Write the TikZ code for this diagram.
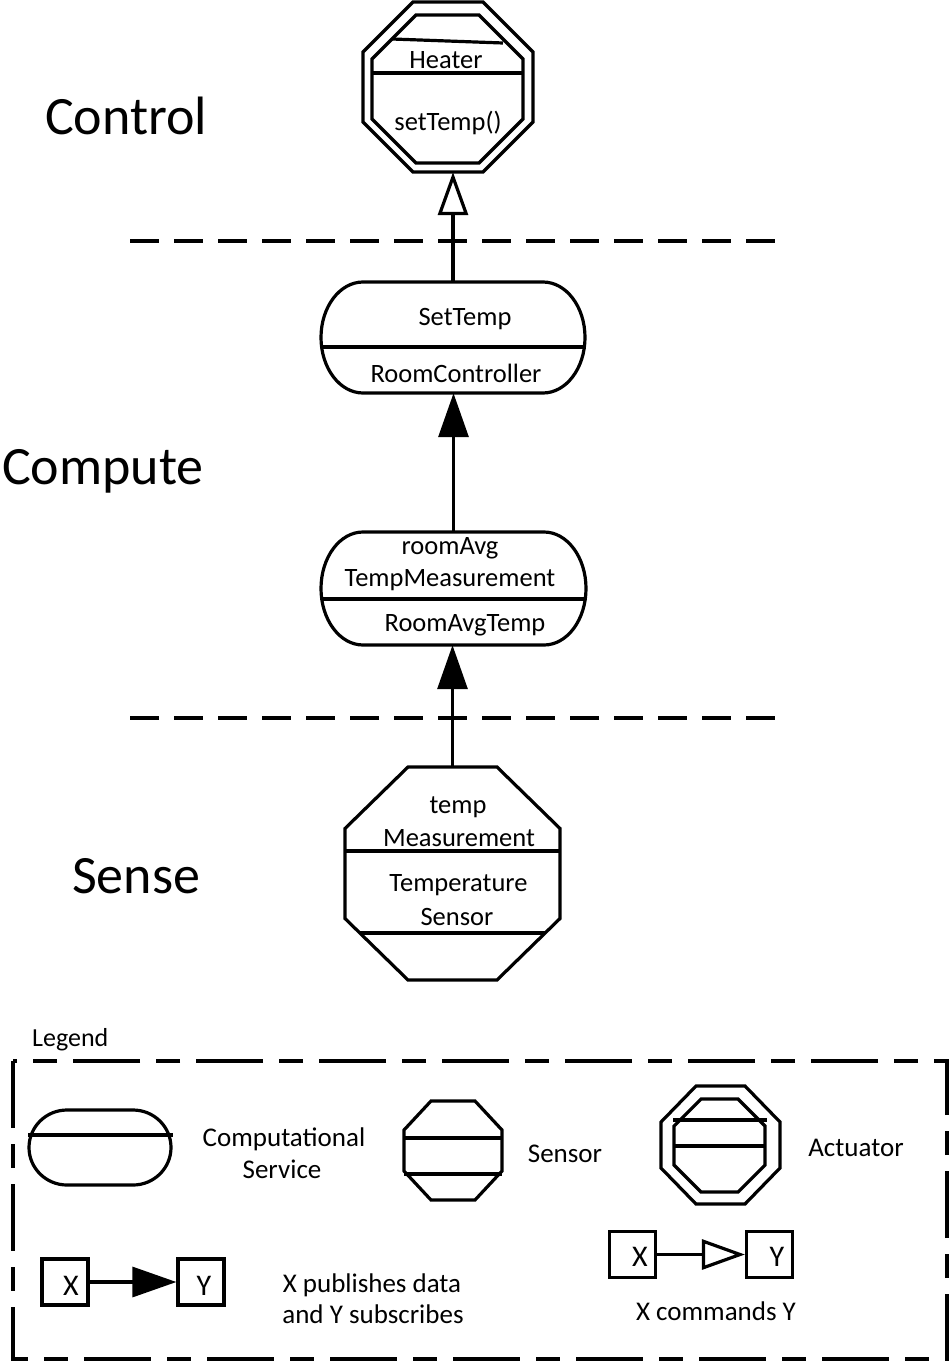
\documentclass[tikz,border=0pt]{standalone}
\usepackage{fontspec}
\setmainfont{Carlito}
\usetikzlibrary{arrows.meta}
\newcommand\drawocto[6]{% cx cy hw hh dx dy
  \draw[shapeline] ({#1-#3+#5},{#2-#4}) -- ({#1+#3-#5},{#2-#4}) -- ({#1+#3},{#2-#4+#6})
    -- ({#1+#3},{#2+#4-#6}) -- ({#1+#3-#5},{#2+#4}) -- ({#1-#3+#5},{#2+#4})
    -- ({#1-#3},{#2+#4-#6}) -- ({#1-#3},{#2-#4+#6}) -- cycle;}
\newcommand\drawpill[5]{% cx cy hw hh a
  \draw[shapeline] ({#1-#3+#5},{#2-#4}) -- ({#1+#3-#5},{#2-#4})
    .. controls ({#1+#3-#5+0.552*#5},{#2-#4}) and ({#1+#3},{#2-0.552*#4}) .. ({#1+#3},{#2})
    .. controls ({#1+#3},{#2+0.552*#4}) and ({#1+#3-#5+0.552*#5},{#2+#4}) .. ({#1+#3-#5},{#2+#4})
    -- ({#1-#3+#5},{#2+#4})
    .. controls ({#1-#3+#5-0.552*#5},{#2+#4}) and ({#1-#3},{#2+0.552*#4}) .. ({#1-#3},{#2})
    .. controls ({#1-#3},{#2-0.552*#4}) and ({#1-#3+#5-0.552*#5},{#2-#4}) .. cycle;}
\tikzset{
  shapeline/.style={line width=3.2pt, draw=black},
  sepline/.style={line width=3.2pt},
  hold/.style={draw=none, inner sep=0pt, shape=rectangle},
  lbl/.style={font=\fontsize{26.5}{31}\selectfont, inner sep=0pt, anchor=base},
  leg/.style={font=\fontsize{27}{32}\selectfont, inner sep=0pt, anchor=base},
  big/.style={font=\fontsize{54}{64}\selectfont, inner sep=0pt, anchor=base west},
  boxtxt/.style={font=\fontsize{30}{36}\selectfont, inner sep=0pt, anchor=base},
  pubarrow/.style={line width=3.2pt, -{Triangle[length=44pt,width=30pt]}},
  cmdarrow/.style={line width=3.2pt, -{Triangle[open,length=43pt,width=30pt]}},
  sepdash/.style={line width=3.2pt, dash pattern=on 29pt off 15pt},
  legdash/.style={line width=3.2pt, dash pattern=on 67pt off 16pt on 24pt off 16pt},
  xybox/.style={draw, line width=3.2pt, minimum width=46pt, minimum height=46pt, inner sep=0pt},
}
\begin{document}
\begin{tikzpicture}[x=1pt,y=-1pt]
\useasboundingbox (0,0) rectangle (951,1364);
\fill[white] (0,0) rectangle (951,1364);

% layer labels
\node[big] (lcontrol) at (45,135) {Control};
\node[big] (lcompute) at (2,484) {Compute};
\node[big] (lsense) at (72,893) {Sense};

% separators
\draw[sepdash] (130,241) -- (775,241);
\draw[sepdash] (130,718) -- (775,718);

% Heater actuator
\drawocto{448}{87}{85}{85}{50}{50}
\drawocto{447.5}{89}{75.5}{74}{44}{44}
\draw[sepline] (392,39) -- (503,43);
\draw[sepline] (372,73) -- (523,73);
\node[hold, minimum width=170pt, minimum height=170pt] (heater) at (448,87) {};
\node[lbl] (theater) at (446,69) {Heater};
\node[lbl] (tsettemp) at (448,131) {setTemp()};

% SetTemp service
\drawpill{453}{337.5}{132}{55.5}{42}
\draw[sepline] (322,347) -- (584,347);
\node[hold, minimum width=264pt, minimum height=111pt] (setT) at (453,337.5) {};
\node[lbl] (tset) at (465,325) {SetTemp};
\node[lbl] (troomc) at (456,382) {RoomController};

% roomAvg service
\drawpill{453.5}{588.5}{132.5}{56.5}{42}
\draw[sepline] (322,599) -- (585,599);
\node[hold, minimum width=265pt, minimum height=113pt] (roomavg) at (453.5,588.5) {};
\node[lbl] (tra1) at (450,554) {roomAvg};
\node[lbl] (tra2) at (450,586) {TempMeasurement};
\node[lbl] (tra3) at (465,631) {RoomAvgTemp};

% Sensor
\drawocto{452.5}{873.5}{107.5}{106.5}{63}{61.5}
\draw[sepline] (345,851) -- (560,851);
\draw[sepline] (360,933) -- (545,933);
\node[hold, minimum width=215pt, minimum height=213pt] (sensor) at (452.5,873.5) {};
\node[lbl] (ts1) at (458,813) {temp};
\node[lbl] (ts2) at (459,846) {Measurement};
\node[lbl] (ts3) at (458.5,891) {Temperature};
\node[lbl] (ts4) at (457,925) {Sensor};

% connectors
\draw[cmdarrow] (setT.north) -- (setT.north |- heater.south);
\draw[pubarrow] (roomavg.north) -- (roomavg.north |- setT.south);
\draw[pubarrow] (sensor.north) -- (sensor.north |- roomavg.south);

% Legend
\node[font=\fontsize{26}{31}\selectfont, inner sep=0pt, anchor=base west] (legtitle) at (32,1046) {Legend};
\draw[legdash] (13,1061) rectangle (947,1359);

\drawpill{100}{1147.5}{71}{37.5}{38}
\draw[sepline] (28,1135) -- (173,1135);
\node[leg] (lcs1) at (284,1146) {Computational};
\node[leg] (lcs2) at (282,1178) {Service};

\drawocto{453}{1150.5}{49}{49.5}{27}{29}
\draw[sepline] (404,1138) -- (502,1138);
\draw[sepline] (404,1174) -- (502,1174);
\node[leg] (lsen) at (565,1162) {Sensor};

\drawocto{720.5}{1145}{59.5}{59}{35}{36}
\drawocto{719.5}{1145.5}{45.5}{46.5}{27}{27}
\draw[sepline] (673,1120) -- (767,1120);
\draw[sepline] (674,1146) -- (765,1146);
\node[leg] (lact) at (856,1156) {Actuator};

\node[xybox] (x1) at (65,1282) {};
\node[xybox] (y1) at (201,1282) {};
\node[boxtxt] (x1t) at (71,1295) {X};
\node[boxtxt] (y1t) at (204,1295) {Y};
\draw[pubarrow] (x1) -- (y1);
\node[leg] (lpub1) at (372,1292) {X publishes data};
\node[leg] (lpub2) at (373,1323) {and Y subscribes};

\node[xybox] (x2) at (632.5,1254.5) {};
\node[xybox] (y2) at (769.5,1254.5) {};
\node[boxtxt] (x2t) at (640,1266) {X};
\node[boxtxt] (y2t) at (777,1266) {Y};
\draw[cmdarrow] (x2) -- (y2);
\node[leg] (lcmd) at (716,1320) {X commands Y};
\end{tikzpicture}
\end{document}
